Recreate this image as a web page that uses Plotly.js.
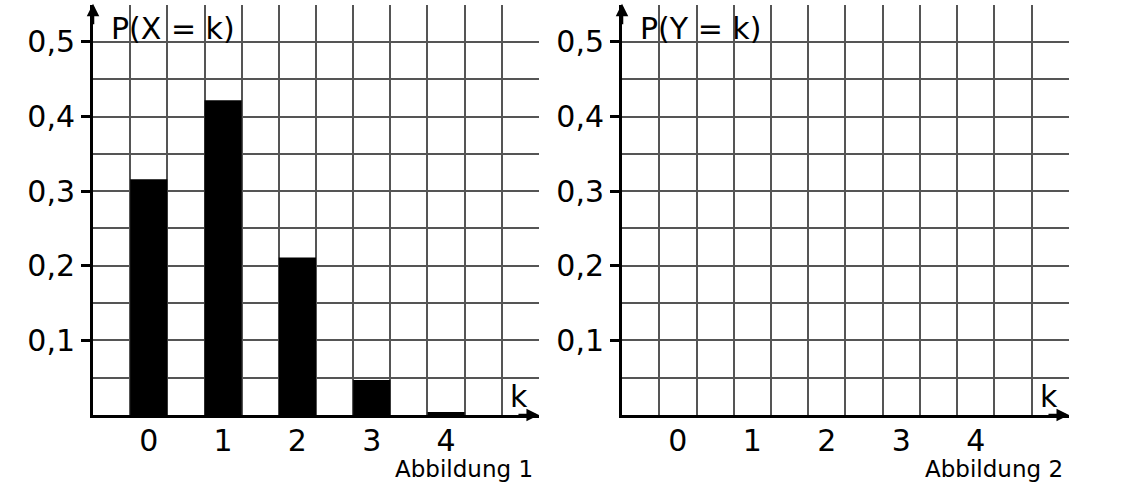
<!DOCTYPE html>
<html>
<head>
<meta charset="utf-8">
<script src="https://cdn.plot.ly/plotly-3.0.1.min.js"></script>
<style>html,body{margin:0;padding:0;background:#fff;}#chart{width:1133px;height:492px;}</style>
</head>
<body>
<div id="chart"></div>
<script>
// Data
var kValues = [0, 1, 2, 3, 4];
var kLabels = ["0", "1", "2", "3", "4"];
var probX = [0.316, 0.422, 0.211, 0.047, 0.004];   // Abbildung 1
var probY = [null, null, null, null, null];        // Abbildung 2 (leer)
var yTickVals = [0.1, 0.2, 0.3, 0.4, 0.5];
var yTickLabels = ["0,1", "0,2", "0,3", "0,4", "0,5"];

var FONT = "DejaVu Sans, Verdana, sans-serif";
var GRID = "#555555";

function xAxis(domain, anchor) {
  return {
    domain: domain, anchor: anchor, range: [-0.75, 5.25], fixedrange: true,
    tickmode: "array", tickvals: kValues, ticktext: kLabels,
    ticks: "", showgrid: false, zeroline: false, ticklabelstandoff: -3,
    showline: true, linecolor: "#000", linewidth: 3,
    tickfont: {family: FONT, size: 30, color: "#000"},
    minor: {tickmode: "linear", tick0: 0.25, dtick: 0.5, showgrid: true,
            gridcolor: GRID, gridwidth: 2, ticks: ""}
  };
}
function yAxis(anchor) {
  return {
    domain: [0.1565, 0.989], range: [0, 0.549], anchor: anchor, fixedrange: true,
    tickmode: "array", tickvals: yTickVals, ticktext: yTickLabels,
    ticks: "outside", ticklen: 9, tickwidth: 3, tickcolor: "#000",
    showgrid: true, gridcolor: GRID, gridwidth: 2, zeroline: false,
    showline: true, linecolor: "#000", linewidth: 3,
    tickfont: {family: FONT, size: 30, color: "#000"},
    minor: {tickmode: "linear", tick0: 0, dtick: 0.05, showgrid: true,
            gridcolor: GRID, gridwidth: 2, ticks: ""}
  };
}

var traces = [
  {type: "bar", x: kValues, y: probX, width: 0.5, xaxis: "x", yaxis: "y",
   marker: {color: "#000", line: {width: 0}}, hoverinfo: "skip"},
  {type: "bar", x: kValues, y: probY, width: 0.5, xaxis: "x2", yaxis: "y2",
   marker: {color: "#000", line: {width: 0}}, hoverinfo: "skip"}
];

function arrows(xr, yr) {
  return [
    {xref: xr + " domain", yref: yr + " domain", x: 0, y: 1.004, ax: 0, ay: 22,
     text: "", showarrow: true, arrowhead: 2, arrowsize: 1, arrowwidth: 2.5, arrowcolor: "#000"},
    {xref: xr + " domain", yref: yr + " domain", x: 1.0, y: 0, ax: -22, ay: 0,
     text: "", showarrow: true, arrowhead: 2, arrowsize: 1, arrowwidth: 2.5, arrowcolor: "#000"}
  ];
}
function labels(xr, varName, fig) {
  return [
    {xref: xr + " domain", yref: "paper", x: 0.036, y: 0.943, xanchor: "left", yanchor: "middle",
     text: "P(" + varName + " = k)", showarrow: false, font: {family: FONT, size: 30, color: "#000"}},
    {xref: xr + " domain", yref: "paper", x: 0.955, y: 0.195, xanchor: "center", yanchor: "middle",
     text: "k", showarrow: false, font: {family: FONT, size: 30, color: "#000"}},
    {xref: xr + " domain", yref: "paper", x: 0.992, y: 0.047, xanchor: "right", yanchor: "middle",
     text: "Abbildung " + fig, showarrow: false, font: {family: FONT, size: 23, color: "#000"}}
  ];
}

var layout = {
  width: 1133, height: 492,
  margin: {l: 0, r: 0, t: 0, b: 0},
  paper_bgcolor: "#fff", plot_bgcolor: "#fff",
  showlegend: false,
  xaxis: xAxis([0.0821, 0.4757], "y"),
  yaxis: yAxis("x"),
  xaxis2: xAxis([0.549, 0.9435], "y2"),
  yaxis2: yAxis("x2"),
  annotations: [].concat(arrows("x", "y"), arrows("x2", "y2"),
                         labels("x", "X", 1), labels("x2", "Y", 2))
};

Plotly.newPlot("chart", traces, layout, {staticPlot: true, displayModeBar: false});
</script>
</body>
</html>
